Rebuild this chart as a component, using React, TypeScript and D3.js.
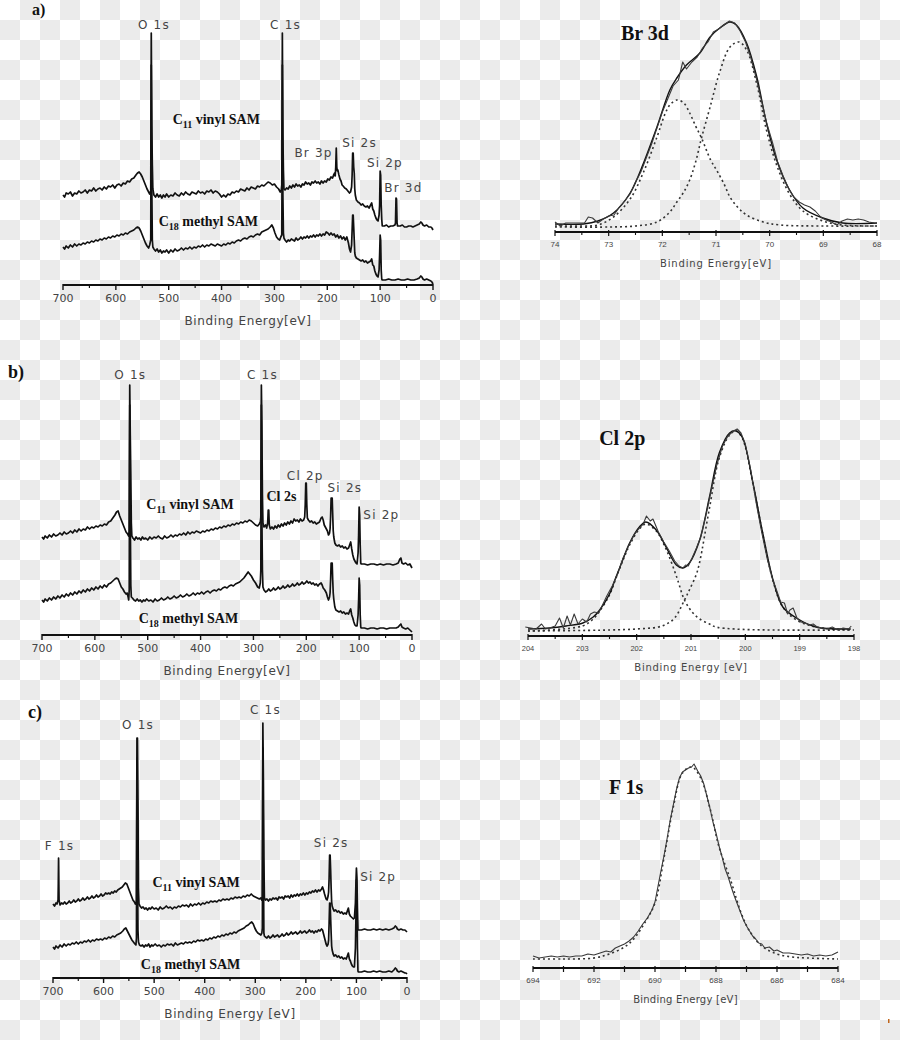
import * as d3 from 'd3';

type Pt = [number, number];

// survey axis ticks (binding energy, eV)
const SURVEY_TICKS = [700, 600, 500, 400, 300, 200, 100, 0];
const SURVEY_MINOR = [650, 550, 450, 350, 250, 150, 50];

// high resolution axis ticks
const BR_TICKS = [74, 73, 72, 71, 70, 69, 68];
const BR_MINOR = [73.5, 72.5, 71.5, 70.5, 69.5, 68.5];
const CL_TICKS = [204, 203, 202, 201, 200, 199, 198];
const CL_MINOR = [203.5, 202.5, 201.5, 200.5, 199.5, 198.5];
const F_TICKS = [694, 692, 690, 688, 686, 684];
const F_MINOR = [693, 691, 689, 687, 685];

// a) survey, intensity in a.u.
const A_VINYL: Pt[] = [[700,90],[697,88],[694,92],[690,91],[686,93],[682,89],[678,92],[674,91],[670,94],[666,92],[662,93],[658,95],[654,92],[650,95],[646,94],[642,97],[638,94],[634,96],[630,97],[626,95],[622,98],[618,96],[614,99],[610,98],[606,100],[602,97],[598,100],[594,101],[590,99],[586,102],[582,101],[578,104],[574,103],[570,106],[566,107],[562,110],[559,112],[556,113],[553,111],[550,108],[547,104],[544,100],[541,96],[538,93],[536,91],[534,94],[533,252],[532,160],[531,120],[530,96],[528,90],[525,88],[522,91],[519,88],[516,90],[513,87],[510,90],[507,88],[504,91],[500,88],[496,90],[492,89],[488,92],[484,90],[480,89],[476,92],[472,90],[468,93],[464,91],[460,90],[456,93],[452,92],[448,91],[444,94],[440,92],[436,93],[432,91],[428,94],[424,93],[420,95],[416,92],[412,94],[408,93],[404,91],[400,88],[396,90],[392,88],[388,91],[384,90],[380,93],[376,92],[372,94],[368,93],[364,96],[360,95],[356,94],[352,97],[348,95],[344,98],[340,97],[336,96],[332,99],[328,98],[324,100],[320,99],[316,101],[312,103],[308,102],[304,100],[300,101],[296,98],[292,96],[289,93],[287,95],[286,100],[285,252],[284,150],[283,115],[282,96],[280,95],[277,97],[274,96],[271,99],[268,97],[265,100],[262,98],[259,101],[256,99],[253,100],[250,98],[247,101],[244,100],[241,103],[238,101],[235,102],[232,100],[229,103],[226,102],[223,104],[220,102],[217,103],[214,101],[211,104],[208,102],[205,104],[202,103],[199,106],[196,105],[193,108],[190,107],[188,110],[186,112],[185,109],[184,118],[183,137],[182,118],[181,114],[180,115],[178,110],[176,106],[174,104],[172,100],[170,99],[167,97],[164,96],[161,94],[158,92],[156,93],[154,98],[153,110],[152,132],[151,132],[150,118],[149,112],[148,96],[147,90],[145,85],[142,83],[139,82],[136,80],[133,81],[130,79],[127,78],[124,79],[121,77],[118,80],[116,82],[114,76],[112,74],[110,70],[108,67],[106,65],[104,64],[102,70],[101,80],[100,114],[99,110],[98,80],[97,66],[96,59],[92,59],[88,60],[84,58],[80,59],[76,59],[72,60],[71,62],[70,87],[69,86],[68,62],[67,59],[62,59],[58,60],[54,58],[50,58],[46,59],[42,59],[38,58],[34,59],[30,60],[26,61],[23,63],[21,62],[19,60],[16,59],[12,60],[8,58],[4,58],[2,57],[0,55]];

const A_METHYL: Pt[] = [[700,38],[697,36],[694,39],[690,37],[686,40],[682,38],[678,41],[674,39],[670,41],[666,40],[662,42],[658,41],[654,43],[650,42],[646,44],[642,43],[638,45],[634,44],[630,46],[626,45],[622,47],[618,46],[614,48],[610,47],[606,49],[602,48],[598,50],[594,49],[590,51],[586,50],[582,52],[578,51],[574,53],[570,54],[566,55],[562,57],[559,58],[556,57],[553,54],[550,50],[547,46],[544,42],[541,39],[538,37],[536,40],[534,45],[533,220],[532,100],[531,45],[530,38],[528,36],[525,34],[522,36],[519,33],[516,35],[513,32],[510,34],[507,33],[504,35],[500,32],[496,35],[492,33],[488,36],[484,34],[480,35],[476,37],[472,35],[468,37],[464,36],[460,38],[456,36],[452,38],[448,37],[444,39],[440,38],[436,40],[432,38],[428,40],[424,39],[420,41],[416,40],[412,39],[408,41],[404,40],[400,39],[396,41],[392,40],[388,42],[384,41],[380,43],[376,42],[372,44],[368,45],[364,44],[360,46],[356,47],[352,46],[348,48],[344,49],[340,48],[336,50],[332,51],[328,50],[324,53],[320,54],[316,55],[312,56],[308,58],[305,60],[302,57],[299,52],[296,48],[293,46],[290,45],[288,48],[286,50],[285,220],[284,90],[283,52],[282,47],[280,45],[277,43],[274,45],[271,44],[268,46],[265,45],[262,44],[259,47],[256,45],[253,46],[250,48],[247,46],[244,48],[241,47],[238,49],[235,47],[232,49],[229,48],[226,50],[223,48],[220,50],[217,49],[214,51],[211,49],[208,51],[205,50],[202,53],[199,52],[196,50],[193,52],[190,50],[187,51],[184,48],[181,50],[178,47],[175,49],[172,46],[169,48],[166,45],[163,48],[160,42],[158,36],[156,33],[154,40],[153,55],[152,70],[151,70],[150,58],[149,45],[148,32],[147,29],[145,27],[142,26],[139,25],[136,24],[133,25],[130,23],[127,24],[124,22],[121,23],[118,24],[116,26],[114,20],[112,19],[110,14],[108,11],[106,9],[104,8],[102,15],[101,30],[100,50],[99,45],[98,15],[97,6],[96,5],[90,5],[84,6],[78,5],[72,5],[66,6],[60,5],[54,5],[48,6],[42,5],[36,5],[30,6],[26,7],[23,9],[21,8],[19,6],[16,5],[12,6],[8,5],[4,4],[2,3],[0,1]];

// b) survey
const B_VINYL: Pt[] = [[700,98],[697,96],[694,99],[690,97],[686,100],[682,98],[678,101],[674,99],[670,100],[666,102],[662,100],[658,103],[654,101],[650,102],[646,104],[642,102],[638,105],[634,103],[630,106],[626,104],[622,106],[618,105],[614,108],[610,106],[606,108],[602,107],[598,109],[594,108],[590,110],[586,109],[582,111],[578,110],[574,113],[570,114],[566,117],[562,120],[559,123],[556,124],[553,119],[550,115],[547,111],[544,107],[541,103],[538,101],[536,99],[535,104],[534,250],[533,200],[532,160],[531,112],[530,99],[528,97],[525,95],[522,98],[519,96],[516,97],[513,95],[510,98],[507,96],[504,97],[500,95],[496,98],[492,96],[488,98],[484,97],[480,99],[476,97],[472,96],[468,99],[464,97],[460,98],[456,100],[452,98],[448,100],[444,99],[440,101],[436,100],[432,102],[428,100],[424,103],[420,101],[416,103],[412,102],[408,104],[404,103],[400,102],[396,104],[392,103],[388,105],[384,104],[380,106],[376,105],[372,107],[368,106],[364,108],[360,107],[356,109],[352,108],[348,110],[344,109],[340,111],[336,110],[332,112],[328,111],[324,113],[320,112],[316,114],[312,113],[308,115],[304,114],[300,112],[296,110],[292,109],[289,111],[287,113],[286,118],[285,250],[284,210],[283,140],[282,112],[280,108],[277,110],[275,107],[273,112],[272,125],[271,125],[270,110],[268,106],[265,108],[262,106],[259,109],[256,107],[253,110],[250,108],[247,111],[244,109],[241,112],[238,110],[235,113],[232,111],[229,114],[226,112],[223,116],[220,114],[217,115],[214,113],[211,116],[208,114],[205,115],[203,118],[202,130],[201,152],[200,152],[199,130],[198,117],[196,115],[193,113],[190,114],[187,112],[184,113],[181,111],[178,112],[175,113],[172,117],[170,118],[168,115],[166,110],[163,107],[160,104],[158,100],[156,102],[155,106],[154,118],[153,137],[152,137],[151,137],[150,120],[149,104],[148,98],[146,92],[144,90],[141,89],[138,90],[135,88],[132,89],[129,87],[126,88],[123,86],[120,87],[118,90],[116,93],[114,86],[112,80],[110,76],[108,74],[106,72],[104,71],[102,82],[101,100],[100,128],[99,120],[98,90],[97,72],[96,71],[90,71],[84,70],[78,71],[72,71],[66,70],[60,71],[54,70],[48,71],[42,71],[36,70],[30,71],[26,72],[23,76],[21,77],[19,72],[16,71],[12,72],[8,70],[4,71],[2,69],[0,67]];

const B_METHYL: Pt[] = [[700,35],[697,33],[694,36],[690,34],[686,37],[682,35],[678,38],[674,36],[670,39],[666,37],[662,40],[658,38],[654,41],[650,39],[646,42],[642,40],[638,43],[634,41],[630,44],[626,42],[622,45],[618,43],[614,46],[610,44],[606,47],[602,45],[598,48],[594,46],[590,49],[586,47],[582,50],[578,48],[574,51],[570,52],[566,54],[562,56],[559,57],[556,56],[553,52],[550,48],[547,46],[544,43],[541,41],[539,42],[537,38],[536,35],[535,45],[534,230],[533,120],[532,50],[531,38],[529,37],[526,35],[523,34],[520,36],[517,34],[514,35],[511,33],[508,35],[505,34],[502,36],[498,34],[494,35],[490,33],[486,36],[482,34],[478,35],[474,37],[470,35],[466,36],[462,38],[458,36],[454,37],[450,39],[446,37],[442,38],[438,40],[434,38],[430,39],[426,41],[422,39],[418,40],[414,42],[410,40],[406,42],[402,41],[398,43],[394,41],[390,43],[386,44],[382,42],[378,44],[374,45],[370,44],[366,46],[362,45],[358,47],[354,48],[350,47],[346,49],[342,50],[338,49],[334,51],[330,52],[326,53],[322,55],[318,57],[314,60],[310,63],[307,61],[304,59],[300,55],[296,52],[292,48],[289,47],[287,52],[286,65],[285,230],[284,120],[283,65],[282,48],[280,45],[277,43],[274,44],[271,46],[268,44],[265,45],[262,47],[259,45],[256,46],[253,48],[250,46],[247,47],[244,49],[241,47],[238,48],[235,50],[232,48],[229,49],[226,51],[223,49],[220,50],[217,52],[214,50],[211,51],[208,53],[205,51],[202,52],[199,54],[196,52],[193,53],[190,51],[187,52],[184,50],[181,51],[178,49],[175,51],[172,52],[170,50],[168,47],[165,45],[162,42],[160,38],[158,35],[156,38],[155,42],[154,55],[153,72],[152,72],[151,72],[150,55],[149,42],[148,36],[146,28],[144,25],[141,24],[138,23],[135,24],[132,22],[129,23],[126,21],[123,22],[120,21],[118,24],[116,26],[114,20],[112,17],[110,13],[108,10],[106,9],[104,9],[102,20],[101,35],[100,57],[99,50],[98,20],[97,8],[96,7],[90,7],[84,6],[78,7],[72,7],[66,6],[60,7],[54,7],[48,6],[42,7],[36,7],[30,7],[26,8],[23,10],[21,11],[19,8],[16,7],[12,6],[8,7],[4,5],[2,4],[0,3]];

// c) survey
const C_VINYL: Pt[] = [[700,74],[697,72],[694,75],[692,74],[690,78],[689.5,95],[689,120],[688.5,98],[688,78],[686,73],[683,75],[680,74],[677,76],[674,74],[671,75],[668,77],[665,75],[662,76],[659,78],[656,76],[653,77],[650,79],[647,77],[644,78],[641,80],[638,78],[635,79],[632,81],[629,79],[626,80],[623,82],[620,80],[617,81],[614,83],[611,81],[608,82],[605,84],[602,82],[599,83],[596,85],[593,84],[590,85],[587,84],[584,86],[581,85],[578,87],[575,86],[572,88],[569,89],[566,90],[563,91],[560,93],[557,95],[554,94],[551,90],[548,86],[545,82],[542,78],[539,76],[537,74],[535,76],[534,240],[533,240],[532,180],[531,90],[530,74],[528,72],[525,70],[522,71],[519,69],[516,70],[513,68],[510,70],[507,69],[504,71],[500,69],[496,70],[492,68],[488,71],[484,69],[480,70],[476,72],[472,70],[468,71],[464,69],[460,71],[456,70],[452,72],[448,71],[444,73],[440,72],[436,73],[432,71],[428,74],[424,72],[420,74],[416,73],[412,75],[408,73],[404,75],[400,74],[396,76],[392,75],[388,77],[384,76],[380,77],[376,76],[372,78],[368,77],[364,79],[360,78],[356,79],[352,78],[348,80],[344,79],[340,81],[336,80],[332,81],[328,80],[324,82],[320,81],[316,83],[312,82],[308,84],[304,82],[300,81],[296,80],[292,79],[289,80],[287,78],[286,82],[285,255],[284,200],[283,120],[282,80],[280,78],[277,79],[274,77],[271,79],[268,78],[265,80],[262,79],[259,80],[256,78],[253,81],[250,80],[247,81],[244,79],[241,82],[238,81],[235,82],[232,80],[229,83],[226,81],[223,83],[220,82],[217,84],[214,82],[211,84],[208,83],[205,85],[202,83],[199,85],[196,84],[193,86],[190,85],[187,87],[184,86],[181,88],[178,86],[175,88],[172,87],[169,89],[167,91],[165,88],[163,84],[160,79],[158,78],[156,82],[155,86],[154,100],[153,123],[152,123],[151,108],[150,90],[149,76],[148,72],[146,69],[144,67],[141,68],[138,66],[135,67],[132,65],[129,66],[126,64],[123,65],[120,64],[118,67],[116,70],[114,64],[112,62],[110,61],[108,60],[106,59],[104,60],[102,75],[101,95],[100,110],[99,100],[98,70],[97,48],[96,48],[90,48],[84,49],[78,48],[72,48],[66,49],[60,48],[54,49],[48,48],[42,49],[36,48],[30,49],[26,50],[23,52],[21,51],[19,49],[16,48],[12,49],[8,48],[4,48],[2,47],[0,46]];

const C_METHYL: Pt[] = [[700,31],[697,29],[694,32],[690,30],[686,33],[682,31],[678,34],[674,32],[670,34],[666,33],[662,35],[658,34],[654,36],[650,34],[646,36],[642,35],[638,37],[634,36],[630,38],[626,36],[622,38],[618,37],[614,39],[610,38],[606,39],[602,38],[598,40],[594,39],[590,41],[586,40],[582,42],[578,41],[574,43],[570,44],[566,45],[562,47],[559,49],[556,50],[553,47],[550,44],[547,41],[544,38],[541,36],[538,34],[536,33],[535,40],[534,220],[533,120],[532,48],[531,36],[529,33],[526,32],[523,33],[520,31],[517,33],[514,32],[511,34],[508,31],[505,33],[502,32],[498,34],[494,32],[490,33],[486,31],[482,33],[478,32],[474,34],[470,33],[466,34],[462,32],[458,35],[454,33],[450,34],[446,35],[442,34],[438,36],[434,35],[430,36],[426,35],[422,37],[418,36],[414,38],[410,37],[406,38],[402,37],[398,39],[394,38],[390,40],[386,39],[382,41],[378,40],[374,42],[370,41],[366,43],[362,42],[358,44],[354,43],[350,45],[346,44],[342,46],[338,45],[334,47],[330,48],[326,49],[322,50],[318,52],[314,53],[310,55],[307,56],[304,54],[301,50],[298,47],[295,45],[292,44],[289,43],[287,45],[286,50],[285,230],[284,120],[283,45],[282,42],[280,41],[277,40],[274,42],[271,40],[268,41],[265,43],[262,41],[259,42],[256,43],[253,41],[250,42],[247,44],[244,42],[241,43],[238,45],[235,43],[232,44],[229,46],[226,44],[223,45],[220,46],[217,44],[214,45],[211,47],[208,45],[205,46],[202,47],[199,45],[196,46],[193,48],[190,46],[187,47],[184,45],[181,47],[178,46],[175,48],[172,47],[169,49],[167,48],[165,44],[163,40],[160,34],[158,32],[156,34],[155,38],[154,55],[153,75],[152,75],[151,60],[150,45],[149,32],[148,28],[146,24],[144,22],[141,23],[138,21],[135,22],[132,20],[129,21],[126,19],[123,20],[120,19],[118,22],[116,25],[114,19],[112,17],[110,14],[108,12],[106,11],[104,11],[102,30],[101,60],[100,98],[99,80],[98,30],[97,7],[96,6],[90,6],[84,7],[78,6],[72,6],[66,7],[60,6],[54,7],[48,6],[42,6],[36,7],[30,6],[26,8],[23,10],[21,9],[19,7],[16,6],[12,7],[8,6],[4,5],[2,5],[0,4]];

// Br 3d high resolution
const BR_MEASURED: Pt[] = [[74.0,10],[73.9,6],[73.8,9],[73.6,9],[73.45,9],[73.38,15],[73.3,14],[73.2,9],[73.1,13],[73.0,16],[72.9,17],[72.8,25],[72.7,31],[72.6,38],[72.5,50],[72.4,60],[72.3,74],[72.2,88],[72.1,104],[72.0,120],[71.9,133],[71.8,146],[71.7,152],[71.62,170],[71.55,163],[71.45,170],[71.35,175],[71.25,184],[71.15,190],[71.05,200],[70.95,203],[70.85,207],[70.75,211],[70.65,209],[70.55,201],[70.45,190],[70.35,174],[70.25,154],[70.15,131],[70.05,108],[69.95,90],[69.85,70],[69.75,56],[69.65,44],[69.55,35],[69.45,30],[69.35,27],[69.25,25],[69.15,21],[69.05,15],[68.95,12],[68.85,10],[68.75,7],[68.65,11],[68.55,13],[68.45,12],[68.35,13],[68.25,12],[68.15,10],[68.05,9]];
const BR_ENVELOPE: Pt[] = [[74.0,8],[73.47,8],[73.2,11],[72.91,19],[72.6,39],[72.35,69],[72.1,105],[71.86,142],[71.73,154],[71.55,167],[71.3,179],[71.11,195],[70.93,204],[70.74,210],[70.62,207],[70.43,189],[70.24,155],[70.06,109],[69.87,72],[69.63,42],[69.38,24],[69.01,14],[68.64,9],[68.0,9]];
const BR_LOW: Pt[] = [[74.0,6],[73.5,6],[73.2,7],[72.91,15],[72.6,33],[72.35,60],[72.1,95],[71.95,118],[71.86,127],[71.73,132],[71.6,129],[71.49,119],[71.38,106],[71.27,94],[71.1,72],[70.99,62],[70.85,48],[70.74,35],[70.6,25],[70.43,17],[70.12,10],[69.8,7],[69.0,6],[68.0,6]];
const BR_HIGH: Pt[] = [[74.0,5],[73.0,5],[72.5,6],[72.1,10],[71.86,20],[71.73,30],[71.6,40],[71.49,52],[71.38,70],[71.27,94],[71.11,125],[70.93,160],[70.74,185],[70.57,190],[70.43,182],[70.24,148],[70.06,102],[69.87,67],[69.63,38],[69.38,21],[69.01,11],[68.64,7],[68.0,6]];

// Cl 2p high resolution
const CL_MEASURED: Pt[] = [[204.05,9],[203.95,8],[203.85,7],[203.75,12],[203.68,7],[203.6,8],[203.5,10],[203.42,18],[203.35,8],[203.28,20],[203.22,11],[203.15,22],[203.08,12],[203.0,17],[202.92,14],[202.85,22],[202.78,24],[202.7,23],[202.62,32],[202.55,40],[202.45,50],[202.35,62],[202.25,78],[202.15,90],[202.05,101],[201.95,108],[201.88,112],[201.82,120],[201.75,115],[201.7,117],[201.6,104],[201.5,94],[201.4,85],[201.3,75],[201.22,70],[201.15,68],[201.1,71],[201.05,70],[200.98,78],[200.9,88],[200.82,99],[200.72,122],[200.62,148],[200.52,172],[200.42,190],[200.32,200],[200.22,205],[200.15,207],[200.08,203],[200.0,192],[199.9,166],[199.8,133],[199.7,104],[199.6,78],[199.5,57],[199.42,45],[199.35,34],[199.28,33],[199.22,22],[199.18,26],[199.12,28],[199.05,18],[198.98,14],[198.9,13],[198.82,11],[198.75,12],[198.68,9],[198.6,8],[198.5,7],[198.4,9],[198.3,6],[198.2,8],[198.1,7],[198.05,10]];
const CL_ENVELOPE: Pt[] = [[204.0,7],[203.6,8],[203.3,10],[202.99,13],[202.8,19],[202.68,26],[202.5,42],[202.38,59],[202.25,77],[202.13,93],[201.95,109],[201.83,114],[201.64,106],[201.46,89],[201.27,71],[201.15,68],[201.03,73],[200.84,96],[200.66,139],[200.48,183],[200.29,203],[200.17,205],[200.05,198],[199.86,153],[199.68,103],[199.49,56],[199.31,29],[199.06,18],[198.7,9],[198.06,7]];
const CL_P12: Pt[] = [[204.0,5],[203.0,10],[202.8,17],[202.68,25],[202.5,41],[202.38,58],[202.25,76],[202.13,91],[201.95,107],[201.83,112],[201.64,105],[201.46,87],[201.27,60],[201.12,36],[200.98,24],[200.84,17],[200.66,12],[200.54,9],[200.2,7],[199.5,6],[198.0,6]];
const CL_P32: Pt[] = [[204.0,5],[202.5,6],[202.0,7],[201.6,9],[201.45,12],[201.3,18],[201.12,36],[201.03,46],[200.9,62],[200.84,74],[200.66,128],[200.48,178],[200.29,201],[200.17,205],[200.05,197],[199.86,152],[199.68,102],[199.49,55],[199.31,29],[199.06,16],[198.7,9],[198.06,6]];

// F 1s high resolution
const F_MEASURED: Pt[] = [[694.0,12],[693.8,10],[693.6,11],[693.4,12],[693.2,11],[693.0,12],[692.8,11],[692.6,12],[692.4,12],[692.2,14],[692.0,13],[691.8,15],[691.6,17],[691.45,16],[691.3,20],[691.15,22],[691.0,24],[690.85,27],[690.7,31],[690.55,37],[690.4,44],[690.25,50],[690.1,58],[690.0,66],[689.9,82],[689.8,98],[689.7,113],[689.6,130],[689.5,148],[689.4,163],[689.3,178],[689.2,190],[689.1,196],[689.0,198],[688.9,200],[688.8,201],[688.72,204],[688.6,197],[688.5,192],[688.4,184],[688.3,172],[688.2,160],[688.1,146],[688.0,135],[687.9,122],[687.8,111],[687.7,99],[687.6,91],[687.5,81],[687.4,72],[687.3,64],[687.2,56],[687.1,48],[687.0,42],[686.9,37],[686.8,32],[686.7,29],[686.6,25],[686.5,24],[686.4,20],[686.25,21],[686.1,17],[686.0,18],[685.8,15],[685.6,15],[685.4,14],[685.2,13],[685.0,14],[684.8,12],[684.6,13],[684.4,12],[684.2,13],[684.0,16]];
const F_FIT: Pt[] = [[694,9],[693,9],[692,10],[691.5,14],[691,21],[690.7,29],[690.3,47],[690,65],[689.7,111],[689.4,161],[689.1,195],[688.8,201],[688.5,190],[688.2,160],[687.9,121],[687.5,86],[687.2,57],[686.9,37],[686.5,22],[686,14],[685.5,11],[685,10],[684,9]];

const A_PEAKS = [
  { text: 'O 1s', e: 528, i: 256 },
  { text: 'C 1s', e: 279, i: 256 },
  { text: 'Br 3p', e: 226, i: 128 },
  { text: 'Si 2s', e: 139, i: 138 },
  { text: 'Si 2p', e: 91, i: 118 },
  { text: 'Br 3d', e: 56, i: 93 },
];
const B_PEAKS = [
  { text: 'O 1s', e: 533, i: 256 },
  { text: 'C 1s', e: 283, i: 256 },
  { text: 'Cl 2s', e: 247, i: 134, serif: true },
  { text: 'Cl 2p', e: 202, i: 155 },
  { text: 'Si 2s', e: 127, i: 143 },
  { text: 'Si 2p', e: 58, i: 116 },
];
const C_PEAKS = [
  { text: 'O 1s', e: 532, i: 249 },
  { text: 'C 1s', e: 280, i: 264 },
  { text: 'F  1s', e: 687, i: 128 },
  { text: 'Si 2s', e: 150, i: 131 },
  { text: 'Si 2p', e: 57, i: 97 },
];

const SANS = 'DejaVu Sans, Verdana, sans-serif';
const SERIF = 'Liberation Serif, Times New Roman, serif';
const INK = '#111';
const GREY_TEXT = '#444';

function SamLabel({ x, y, sub, rest }: { x: number; y: number; sub: string; rest: string }) {
  return (
    <text x={x} y={y} textAnchor="middle" fontFamily={SERIF} fontWeight="bold" fontSize={14} fill={INK}>
      <tspan>C</tspan>
      <tspan fontSize={10} dy={4}>{sub}</tspan>
      <tspan dy={-4}>{rest}</tspan>
    </text>
  );
}

function Survey(props: any) {
  const { left, right, axisY, vinyl, methyl, peaks, vinylAt, methylAt, title } = props;
  const x = d3.scaleLinear().domain([700, 0]).range([left, right]);
  const y = d3.scaleLinear().domain([0, 260]).range([axisY, axisY - 260]);
  const line = d3.line<Pt>().x(d => x(d[0])).y(d => y(d[1]));

  return (
    <g>
      <path d={line(vinyl) || ''} fill="none" stroke={INK} strokeWidth={1.7} strokeLinejoin="round" />
      <path d={line(methyl) || ''} fill="none" stroke={INK} strokeWidth={1.7} strokeLinejoin="round" />

      {/* axis */}
      <line x1={left} x2={right} y1={axisY} y2={axisY} stroke={INK} strokeWidth={1.8} />
      {SURVEY_TICKS.map(t => (
        <line key={t} x1={x(t)} x2={x(t)} y1={axisY - 1} y2={axisY + 5} stroke={INK} strokeWidth={1.4} />
      ))}
      {SURVEY_MINOR.map(t => (
        <line key={t} x1={x(t)} x2={x(t)} y1={axisY} y2={axisY + 3} stroke={INK} strokeWidth={1.2} />
      ))}
      {SURVEY_TICKS.map(t => (
        <text key={t} x={x(t)} y={axisY + 17} textAnchor="middle" fontFamily={SANS} fontSize={11} fill={GREY_TEXT}>
          {t}
        </text>
      ))}
      <text x={(left + right) / 2} y={axisY + 40} textAnchor="middle" fontFamily={SANS} fontSize={12}
        letterSpacing={0.6} fill={GREY_TEXT}>
        {title}
      </text>

      {peaks.map((p: any) => p.serif ? (
        <text key={p.text} x={x(p.e)} y={y(p.i)} textAnchor="middle" fontFamily={SERIF} fontWeight="bold"
          fontSize={14} fill={INK}>{p.text}</text>
      ) : (
        <text key={p.text} x={x(p.e)} y={y(p.i)} textAnchor="middle" fontFamily={SANS} fontSize={12}
          letterSpacing={1.2} fill={GREY_TEXT}>{p.text}</text>
      ))}

      <SamLabel x={x(vinylAt.e)} y={y(vinylAt.i)} sub="11" rest=" vinyl SAM" />
      <SamLabel x={x(methylAt.e)} y={y(methylAt.i)} sub="18" rest=" methyl SAM" />
    </g>
  );
}

function HighRes(props: any) {
  const { domain, left, right, axisY, ticks, minor, labels, measured, envelope, comps, title, titleAt,
    tickSize, titleSpacing } = props;
  const x = d3.scaleLinear().domain(domain).range([left, right]);
  const y = d3.scaleLinear().domain([0, 220]).range([axisY, axisY - 220]);
  const raw = d3.line<Pt>().x(d => x(d[0])).y(d => y(d[1]));
  const smooth = d3.line<Pt>().x(d => x(d[0])).y(d => y(d[1])).curve(d3.curveCatmullRom);

  return (
    <g>
      {comps.map((c: Pt[], k: number) => (
        <path key={k} d={smooth(c) || ''} fill="none" stroke="#333" strokeWidth={1.6} strokeDasharray="2 3" />
      ))}
      {envelope && (
        <path d={smooth(envelope) || ''} fill="none" stroke={INK} strokeWidth={1.4} />
      )}
      <path d={raw(measured) || ''} fill="none" stroke="#3a3a3a" strokeWidth={1.1} strokeLinejoin="round" />

      <line x1={left} x2={right} y1={axisY} y2={axisY} stroke={INK} strokeWidth={1.8} />
      {ticks.map((t: number) => (
        <line key={t} x1={x(t)} x2={x(t)} y1={axisY - 2} y2={axisY + 4} stroke={INK} strokeWidth={1.2} />
      ))}
      {minor.map((t: number) => (
        <line key={t} x1={x(t)} x2={x(t)} y1={axisY - 1} y2={axisY + 3} stroke={INK} strokeWidth={1.1} />
      ))}
      {labels.map((t: number) => (
        <text key={t} x={x(t)} y={axisY + 15} textAnchor="middle" fontFamily="Liberation Sans, Arial, sans-serif"
          fontSize={tickSize} fill={GREY_TEXT}>{t}</text>
      ))}
      <text x={(left + right) / 2} y={axisY + 35} textAnchor="middle" fontFamily={SANS} fontSize={10}
        letterSpacing={titleSpacing} fill={GREY_TEXT}>{props.axisTitle}</text>

      <text x={x(titleAt.e)} y={y(titleAt.i)} fontFamily={SERIF} fontWeight="bold" fontSize={20} fill={INK}>
        {title}
      </text>
    </g>
  );
}

export default function App() {
  return (
    <svg width={900} height={1040} style={{ position: 'absolute', left: 0, top: 0 }}>
      <defs>
        <pattern id="checker" width={40} height={40} patternUnits="userSpaceOnUse">
          <rect width={40} height={40} fill="#ffffff" />
          <rect x={20} y={0} width={20} height={20} fill="#ebebeb" />
          <rect x={0} y={20} width={20} height={20} fill="#ebebeb" />
        </pattern>
      </defs>
      <rect width={900} height={1040} fill="url(#checker)" />

      {/* panel tags */}
      <text x={32} y={15} fontFamily={SERIF} fontWeight="bold" fontSize={16} fill={INK}>a)</text>
      <text x={8} y={378} fontFamily={SERIF} fontWeight="bold" fontSize={18} fill={INK}>b)</text>
      <text x={28} y={718} fontFamily={SERIF} fontWeight="bold" fontSize={18} fill={INK}>c)</text>

      <Survey left={63} right={433} axisY={285} vinyl={A_VINYL} methyl={A_METHYL} peaks={A_PEAKS}
        vinylAt={{ e: 410, i: 161 }} methylAt={{ e: 425, i: 59 }} title="Binding Energy[eV]" />
      <Survey left={42} right={412} axisY={635} vinyl={B_VINYL} methyl={B_METHYL} peaks={B_PEAKS}
        vinylAt={{ e: 420, i: 126 }} methylAt={{ e: 423, i: 12 }} title="Binding Energy[eV]" />
      <Survey left={53} right={407} axisY={978} vinyl={C_VINYL} methyl={C_METHYL} peaks={C_PEAKS}
        vinylAt={{ e: 417, i: 91 }} methylAt={{ e: 428, i: 9 }} title="Binding Energy [eV]" />

      <HighRes domain={[74, 68]} left={555} right={877} axisY={232} ticks={BR_TICKS} minor={BR_MINOR}
        labels={BR_TICKS} measured={BR_MEASURED} envelope={BR_ENVELOPE} comps={[BR_LOW, BR_HIGH]}
        title="Br 3d" titleAt={{ e: 72.77, i: 192 }} tickSize={8} titleSpacing={0.85} axisTitle="Binding Energy[eV]" />
      <HighRes domain={[204, 198]} left={528} right={854} axisY={636} ticks={CL_TICKS} minor={CL_MINOR}
        labels={CL_TICKS} measured={CL_MEASURED} envelope={CL_ENVELOPE} comps={[CL_P12, CL_P32]}
        title="Cl 2p" titleAt={{ e: 202.69, i: 191 }} tickSize={7.5} titleSpacing={0.7} axisTitle="Binding Energy [eV]" />
      <HighRes domain={[694, 684]} left={533} right={838} axisY={968} ticks={[...F_TICKS, ...F_MINOR]} minor={[]}
        labels={F_TICKS} measured={F_MEASURED} envelope={null} comps={[F_FIT]}
        title="F 1s" titleAt={{ e: 691.51, i: 174 }} tickSize={8} titleSpacing={0.25} axisTitle="Binding Energy [eV]" />

      <rect x={888} y={1019} width={1.5} height={4} fill="#c0651a" />
    </svg>
  );
}
